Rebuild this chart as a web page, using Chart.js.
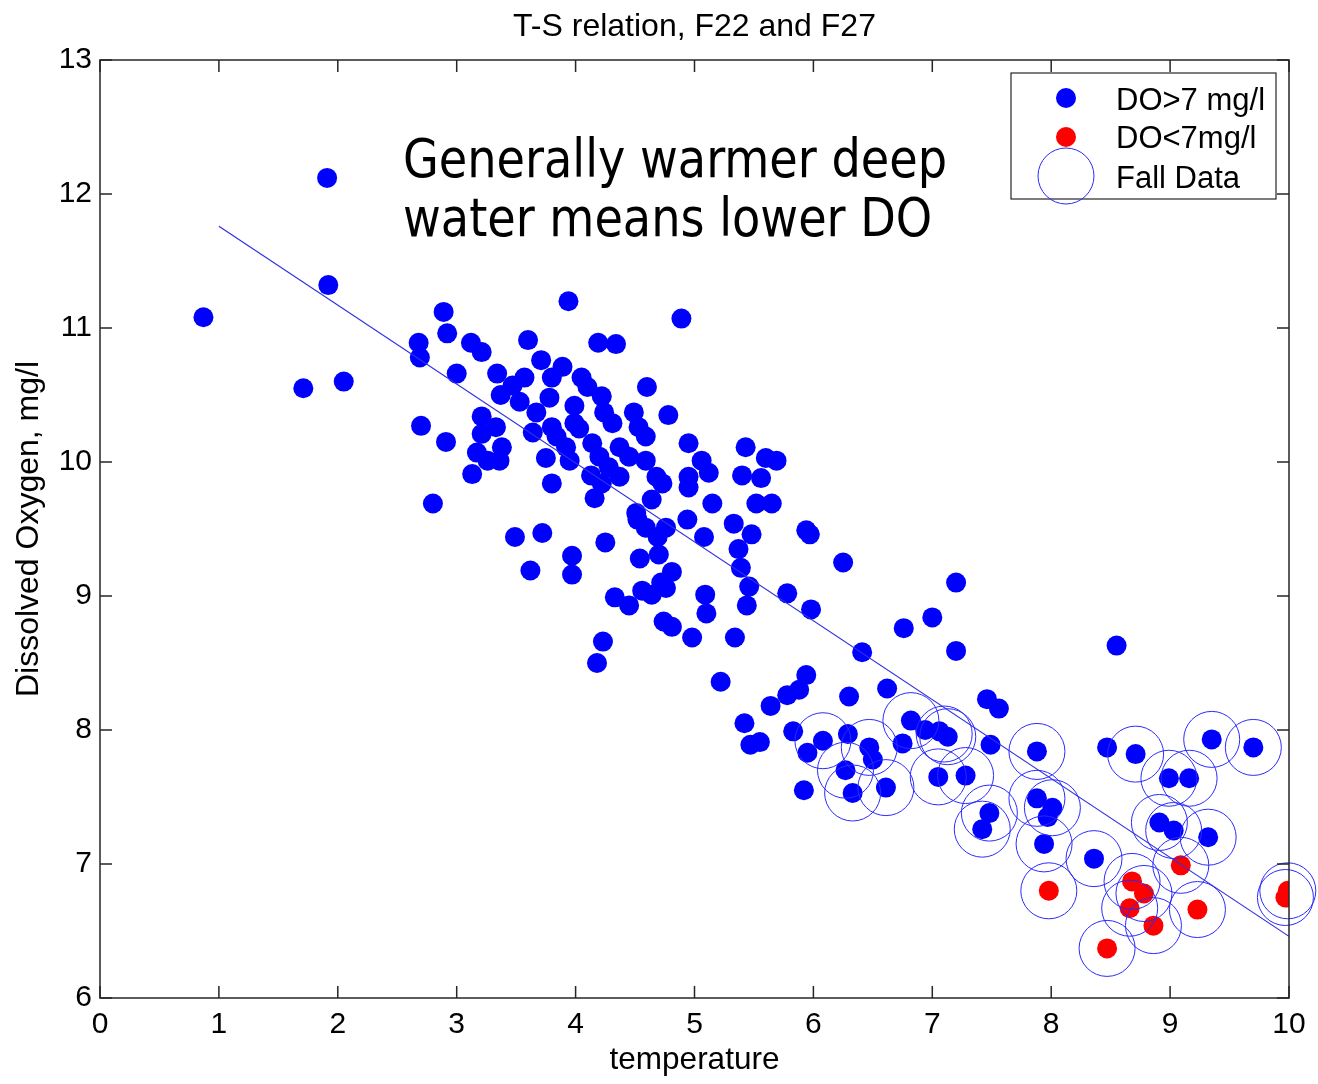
<!DOCTYPE html>
<html>
<head>
<meta charset="utf-8">
<title>T-S relation, F22 and F27</title>
<script src="https://cdn.jsdelivr.net/npm/chart.js@4.4.1/dist/chart.umd.min.js"></script>
<style>
    html, body { margin: 0; padding: 0; background: #fff; }
    canvas { display: block; }
</style>
</head>
<body>
<canvas id="doChart" width="1318" height="1084"></canvas>
<script>
// tick labels
const xTicks = [0, 1, 2, 3, 4, 5, 6, 7, 8, 9, 10];
const yTicks = [6, 7, 8, 9, 10, 11, 12, 13];

// DO > 7 mg/l (blue dots)
const blueTemp = [
    0.87, 1.71, 1.91, 1.92, 2.05, 2.68, 2.69, 2.70, 2.80, 2.89, 2.91, 2.92, 3.00, 3.12, 3.13, 3.17, 3.21, 3.21, 3.21, 3.26,
    3.34, 3.37, 3.94, 4.89, 3.60, 4.19, 4.34, 3.71, 3.89, 4.05, 4.10, 4.22, 4.60, 3.80, 3.57, 3.47, 3.78, 3.53, 3.99, 3.67,
    3.99, 4.24, 4.49, 4.78, 3.33, 3.64, 3.80, 4.03, 4.31, 4.53, 3.84, 3.38, 3.36, 3.75, 3.95, 3.92, 4.14, 4.20, 4.37, 4.45,
    4.59, 4.59, 4.95, 5.43, 5.60, 5.69, 4.13, 4.28, 4.22, 4.37, 4.16, 4.68, 4.73, 4.95, 5.06, 5.12, 4.95, 5.40, 5.56, 3.80,
    5.15, 5.52, 5.65, 4.64, 4.51, 4.59, 4.76, 4.94, 4.52, 5.33, 5.48, 5.94, 5.97, 5.08, 4.69, 5.37, 5.39, 6.25, 3.49, 3.72,
    4.25, 3.97, 3.97, 3.62, 4.54, 4.70, 4.81, 4.72, 4.76, 5.46, 5.44, 4.56, 4.64, 4.33, 4.45, 5.09, 5.10, 5.78, 5.98, 4.74,
    4.81, 4.98, 5.34, 4.23, 4.18, 5.22, 5.94,
    7.20, 7.00, 6.76, 8.55, 6.41, 7.20, 5.88, 5.78, 5.64, 6.30, 6.62, 7.46, 7.56, 5.42, 6.82, 6.94, 7.06, 7.13, 5.83, 5.47,
    5.55, 6.08, 6.29, 5.95, 6.47, 6.50, 6.27, 6.33, 6.61, 5.92, 6.75, 7.05, 7.28, 7.49, 7.48, 7.42, 7.88, 7.88, 8.01, 7.97,
    7.94, 8.36, 8.47, 8.71, 9.35, 9.70, 8.99, 9.16, 8.91, 9.03, 9.32
];
const blueDO = [
    11.08, 10.55, 12.12, 11.32, 10.60, 10.89, 10.78, 10.27, 9.69, 11.12, 10.15, 10.96, 10.66, 10.89, 9.91, 10.07, 10.82, 10.34, 10.21, 10.01,
    10.66, 10.50, 11.20, 11.07, 10.91, 10.89, 10.88, 10.76, 10.71, 10.63, 10.56, 10.49, 10.56, 10.63, 10.63, 10.57, 10.48, 10.45, 10.42, 10.37,
    10.29, 10.37, 10.37, 10.35, 10.26, 10.22, 10.26, 10.25, 10.29, 10.26, 10.19, 10.11, 10.01, 10.03, 10.01, 10.11, 10.14, 10.04, 10.11, 10.04,
    10.19, 10.01, 10.14, 10.11, 10.03, 10.01, 9.90, 9.96, 9.84, 9.89, 9.73, 9.89, 9.84, 9.89, 10.01, 9.92, 9.81, 9.90, 9.88, 9.84,
    9.69, 9.69, 9.69, 9.72, 9.62, 9.51, 9.51, 9.57, 9.57, 9.54, 9.46, 9.49, 9.46, 9.44, 9.44, 9.35, 9.21, 9.25, 9.44, 9.47,
    9.40, 9.30, 9.16, 9.19, 9.28, 9.31, 9.18, 9.10, 9.06, 9.07, 8.93, 9.04, 9.01, 8.99, 8.93, 9.01, 8.87, 9.02, 8.90, 8.81,
    8.77, 8.69, 8.69, 8.66, 8.50, 8.36, 8.41,
    9.10, 8.84, 8.76, 8.63, 8.58, 8.59, 8.30, 8.26, 8.18, 8.25, 8.31, 8.23, 8.16, 8.05, 8.07, 8.00, 7.99, 7.95, 7.99, 7.89,
    7.91, 7.92, 7.97, 7.83, 7.87, 7.78, 7.70, 7.53, 7.57, 7.55, 7.90, 7.65, 7.66, 7.89, 7.38, 7.26, 7.84, 7.49, 7.42, 7.35,
    7.15, 7.04, 7.87, 7.82, 7.93, 7.87, 7.64, 7.64, 7.31, 7.25, 7.20
];

// DO < 7 mg/l (red dots)
const redTemp = [7.98, 8.68, 8.78, 8.66, 8.86, 8.47, 9.09, 9.23, 9.97, 9.99];
const redDO = [6.80, 6.87, 6.78, 6.67, 6.54, 6.37, 6.99, 6.66, 6.75, 6.80];

// fall data (open circles)
const fallTemp = [
    6.08, 6.27, 6.47, 6.33, 6.61, 6.82, 7.13, 7.10, 7.05, 7.28, 7.48, 7.42, 7.88, 7.88, 8.01, 7.94, 7.98, 8.36,
    8.71, 9.35, 9.70, 8.99, 9.16, 8.91, 9.03, 9.32, 9.09, 8.68, 8.66, 8.78, 8.86, 8.47, 9.23, 9.97, 9.99
];
const fallDO = [
    7.92, 7.70, 7.87, 7.53, 7.57, 8.07, 7.95, 7.97, 7.65, 7.66, 7.38, 7.26, 7.84, 7.49, 7.42, 7.15, 6.80, 7.04,
    7.82, 7.93, 7.87, 7.64, 7.64, 7.31, 7.25, 7.20, 6.99, 6.87, 6.67, 6.78, 6.54, 6.37, 6.66, 6.75, 6.80
];

// regression line end points
const fitTemp = [1, 10];
const fitDO = [11.76, 6.46];

const titleText = 'T-S relation, F22 and F27';
const noteLines = ['Generally warmer deep', 'water means lower DO'];
const legendLabels = ['DO>7 mg/l', 'DO<7mg/l', 'Fall Data'];

const axisFont = "'Liberation Sans', Arial, sans-serif";
const noteFont = "'DejaVu Sans Condensed', 'DejaVu Sans', sans-serif";

function toPoints(xs, ys) {
    return xs.map((v, i) => ({ x: v, y: ys[i] }));
}

// frame, inward ticks, title, note text and legend box (matlab look)
const decorPlugin = {
    id: 'decor',
    afterDraw(chart) {
        const { ctx, chartArea: a, scales: { x, y } } = chart;
        ctx.save();
        ctx.strokeStyle = '#262626';
        ctx.lineWidth = 1.5;
        ctx.strokeRect(a.left, a.top, a.right - a.left, a.bottom - a.top);
        ctx.beginPath();
        xTicks.forEach(v => {
            const px = x.getPixelForValue(v);
            ctx.moveTo(px, a.bottom); ctx.lineTo(px, a.bottom - 12);
            ctx.moveTo(px, a.top); ctx.lineTo(px, a.top + 12);
        });
        yTicks.forEach(v => {
            const py = y.getPixelForValue(v);
            ctx.moveTo(a.left, py); ctx.lineTo(a.left + 12, py);
            ctx.moveTo(a.right, py); ctx.lineTo(a.right - 12, py);
        });
        ctx.stroke();

        // title, centred over the axes
        ctx.fillStyle = '#000';
        ctx.font = '32px ' + axisFont;
        ctx.textAlign = 'center';
        ctx.textBaseline = 'alphabetic';
        ctx.fillText(titleText, (a.left + a.right) / 2, 36);

        // annotation
        ctx.textAlign = 'left';
        ctx.font = '53px ' + noteFont;
        const sx = 544 / ctx.measureText(noteLines[0]).width;
        ctx.save();
        ctx.translate(403, 0);
        ctx.scale(sx, 1);
        ctx.fillText(noteLines[0], 0, 177);
        ctx.fillText(noteLines[1], 0, 236);
        ctx.restore();

        // legend
        const lx = a.right - 278, ly = a.top + 13;
        ctx.fillStyle = '#fff';
        ctx.fillRect(lx, ly, 265, 126);
        ctx.lineWidth = 1.2;
        ctx.strokeStyle = '#262626';
        ctx.strokeRect(lx, ly, 265, 126);
        const mx = lx + 55;
        ctx.fillStyle = '#0000ff';
        ctx.beginPath(); ctx.arc(mx, ly + 25, 10, 0, Math.PI * 2); ctx.fill();
        ctx.fillStyle = '#ff0000';
        ctx.beginPath(); ctx.arc(mx, ly + 64, 10, 0, Math.PI * 2); ctx.fill();
        ctx.strokeStyle = '#2a2aff';
        ctx.lineWidth = 1;
        ctx.beginPath(); ctx.arc(mx, ly + 103, 28, 0, Math.PI * 2); ctx.stroke();
        ctx.fillStyle = '#000';
        ctx.font = '31px ' + axisFont;
        ctx.fillText(legendLabels[0], lx + 105, ly + 37);
        ctx.fillText(legendLabels[1], lx + 105, ly + 75);
        ctx.fillText(legendLabels[2], lx + 105, ly + 115);
        ctx.restore();
    }
};

const ctx = document.getElementById('doChart').getContext('2d');
const chart = new Chart(ctx, {
    type: 'scatter',
    data: {
        datasets: [{
            label: 'Fall Data',
            data: toPoints(fallTemp, fallDO),
            pointRadius: 28,
            pointHoverRadius: 28,
            backgroundColor: 'rgba(0,0,0,0)',
            borderColor: '#2a2aff',
            borderWidth: 1,
            clip: false,
            order: 0
        }, {
            label: 'fit',
            data: toPoints(fitTemp, fitDO),
            showLine: true,
            pointRadius: 0,
            borderColor: '#3030e0',
            borderWidth: 1.2,
            order: 1
        }, {
            label: legendLabels[1],
            data: toPoints(redTemp, redDO),
            pointRadius: 10,
            pointHoverRadius: 10,
            backgroundColor: '#ff0000',
            borderWidth: 0,
            order: 2
        }, {
            label: legendLabels[0],
            data: toPoints(blueTemp, blueDO),
            pointRadius: 10,
            pointHoverRadius: 10,
            backgroundColor: '#0000ff',
            borderWidth: 0,
            order: 3
        }]
    },
    options: {
        responsive: false,
        animation: false,
        layout: { padding: { top: 60, right: 25, bottom: 0, left: 0 } },
        plugins: {
            legend: { display: false },
            tooltip: { enabled: false },
            title: { display: false }
        },
        scales: {
            x: {
                type: 'linear',
                min: 0,
                max: 10,
                afterBuildTicks: s => { s.ticks = xTicks.map(v => ({ value: v })); },
                ticks: { color: '#000', padding: 9, font: { family: axisFont, size: 30 } },
                grid: { display: false, drawTicks: false },
                border: { display: false },
                title: {
                    display: true,
                    text: 'temperature',
                    color: '#000',
                    font: { family: axisFont, size: 31.5 },
                    padding: { top: 0, bottom: 5 }
                },
                afterFit: s => { s.height = 86; }
            },
            y: {
                type: 'linear',
                min: 6,
                max: 13,
                afterBuildTicks: s => { s.ticks = yTicks.map(v => ({ value: v })); },
                ticks: { color: '#000', padding: 8, font: { family: axisFont, size: 30 } },
                grid: { display: false, drawTicks: false },
                border: { display: false },
                title: {
                    display: true,
                    text: 'Dissolved Oxygen, mg/l',
                    color: '#000',
                    font: { family: axisFont, size: 32 },
                    padding: { top: 10, bottom: 0 }
                },
                afterFit: s => { s.width = 100; }
            }
        }
    },
    plugins: [decorPlugin]
});
</script>
</body>
</html>
